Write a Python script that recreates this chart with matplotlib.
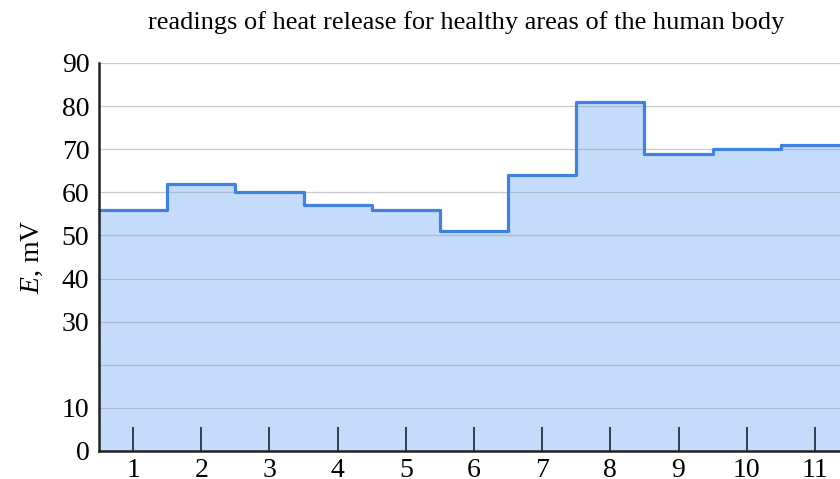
import matplotlib.pyplot as plt

plt.rcParams["font.family"] = ["Liberation Serif", "DejaVu Serif"]
plt.rcParams["mathtext.fontset"] = "custom"
plt.rcParams["mathtext.it"] = "Liberation Serif:italic"
plt.rcParams["mathtext.rm"] = "Liberation Serif"

# measurement points and readings
points = [1, 2, 3, 4, 5, 6, 7, 8, 9, 10, 11]
readings = [56, 62, 60, 57, 56, 51, 64, 81, 69, 70, 71]

y_ticks = [0, 10, 20, 30, 40, 50, 60, 70, 80, 90]
y_tick_labels = ["0", "10", "", "30", "40", "50", "60", "70", "80", "90"]

fig = plt.figure(figsize=(8.4, 4.79), dpi=100)
ax = fig.add_axes([99 / 840, 1 - 451 / 479, 750 / 840, (451 - 63) / 479])

ax.fill_between(points, readings, step="mid", color="#c4dbf9", lw=0, zorder=1)
# stretch the fill out to the half-step edges
ax.fill_between([0.5, 1], [readings[0]] * 2, color="#c4dbf9", lw=0, zorder=1)
ax.fill_between([11, 11.5], [readings[-1]] * 2, color="#c4dbf9", lw=0, zorder=1)

xs = [0.5] + points + [11.5]
ys = [readings[0]] + readings + [readings[-1]]
ax.step(xs, ys, where="mid", color="#3f82e4", lw=2.3, zorder=3,
        solid_joinstyle="round")

ax.set_xlim(0.5, 11.5)
ax.set_ylim(0, 90)
ax.set_yticks(y_ticks)
ax.set_yticklabels(y_tick_labels)
ax.set_xticks(points)
ax.yaxis.grid(True, color="#9aa3ad", lw=0.9, alpha=0.55, zorder=2)
ax.set_axisbelow(False)

ax.tick_params(axis="x", direction="in", length=17, width=1.2, color="#1a2535",
               labelsize=20, pad=5)
ax.tick_params(axis="y", length=0, labelsize=20, pad=7)

for side in ["top", "right"]:
    ax.spines[side].set_visible(False)
for side in ["left", "bottom"]:
    ax.spines[side].set_linewidth(1.8)
    ax.spines[side].set_color("#222222")
    ax.spines[side].set_zorder(4)

ax.set_ylabel("$E$, mV", fontsize=20, labelpad=12)
fig.text(0.555, 0.952, "readings of heat release for healthy areas of the human body",
         ha="center", va="center", fontsize=19)

fig.savefig("out.png", dpi=100)
